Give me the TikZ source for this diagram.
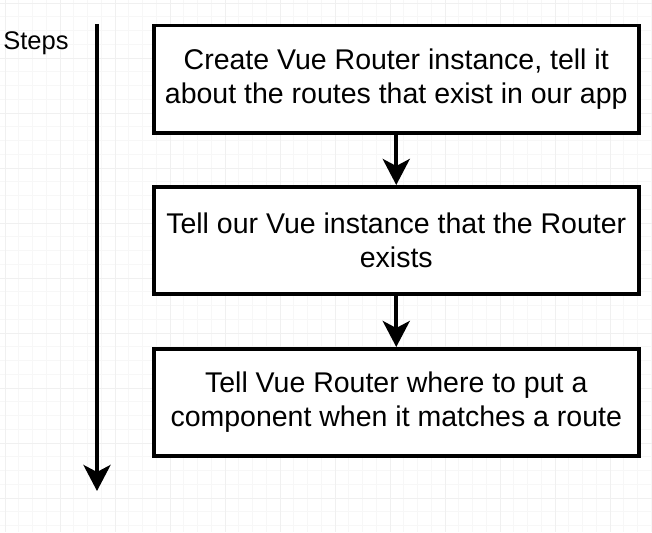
\documentclass[tikz,border=0pt]{standalone}
\usepackage{fontspec}
\setmainfont{Liberation Sans}
\usetikzlibrary{arrows.meta}
\begin{document}
\begin{tikzpicture}[x=1pt,y=-1pt,
  stepbox/.style={draw=black,line width=3.5pt,fill=white,minimum width=485pt,minimum height=107pt,inner sep=0pt,align=center,font=\fontsize{28.5}{34}\selectfont,anchor=north west},
  flowarrow/.style={line width=4pt,-{Stealth[length=26pt,width=27pt,inset=7pt]}},
  gridminor/.style={draw=black!3,line width=0.6pt},
  gridmajor/.style={draw=black!6,line width=0.8pt}]
\useasboundingbox (0,0) rectangle (652,532);
\fill[white] (0,0) rectangle (652,532);
\foreach \i in {0,...,48} {
  \draw[gridminor] (\i*13.75+5,0) -- (\i*13.75+5,532);
  \draw[gridminor] (0,\i*13.75+3) -- (652,\i*13.75+3);
}
\foreach \i in {0,...,12} {
  \draw[gridmajor] (\i*55+5,0) -- (\i*55+5,532);
  \draw[gridmajor] (0,\i*55+3) -- (652,\i*55+3);
}
\node[font=\fontsize{25.5}{30}\selectfont] (steps) at (36,43) {Steps};
\coordinate (st) at (97,24);
\coordinate (en) at (97,491);
\draw[flowarrow] (st) -- (en);
\node[stepbox] (b1) at (152,24) {Create Vue Router instance, tell it\\about the routes that exist in our app};
\node[stepbox] (b2) at (152,185) {Tell our Vue instance that the Router\\exists};
\node[stepbox] (b3) at (152,347) {Tell Vue Router where to put a\\component when it matches a route};
\draw[flowarrow] (b1.south) -- (b2.north);
\draw[flowarrow] (b2.south) -- (b3.north);
\end{tikzpicture}
\end{document}
